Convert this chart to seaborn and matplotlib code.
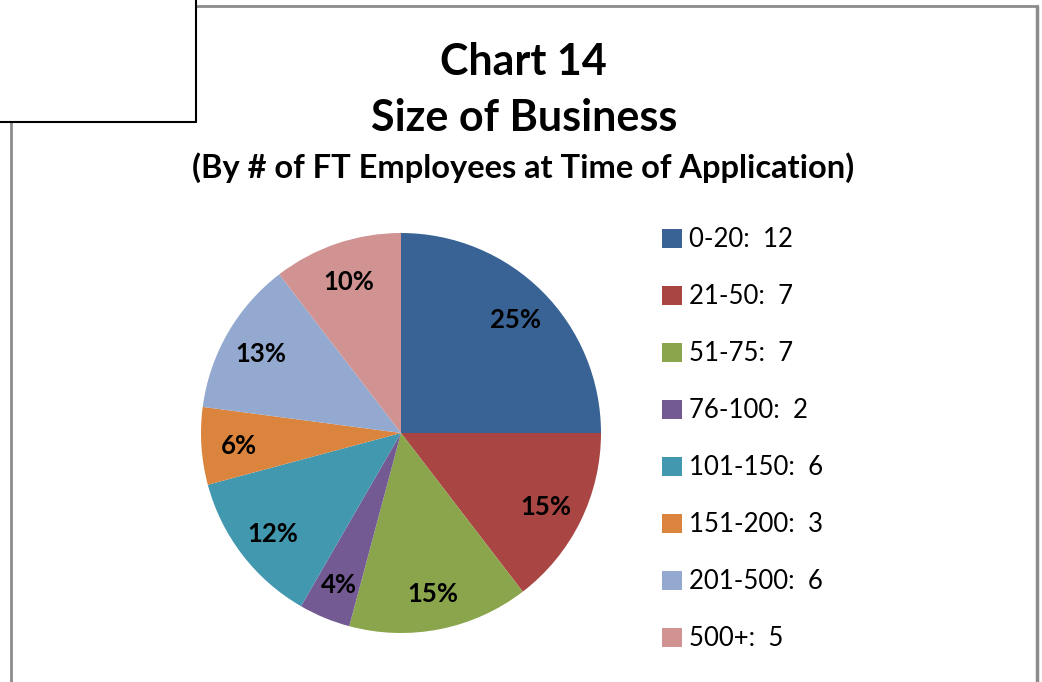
import matplotlib
matplotlib.use("Agg")
import matplotlib.pyplot as plt
import seaborn as sns
from matplotlib.lines import Line2D
from matplotlib.patches import Patch

categories = ["0-20", "21-50", "51-75", "76-100", "101-150", "151-200", "201-500", "500+"]
counts = [12, 7, 7, 2, 6, 3, 6, 5]
pct_labels = ["25%", "15%", "15%", "4%", "12%", "6%", "13%", "10%"]
colors = ["#3A6395", "#A94543", "#8AA54C", "#735A93", "#4298AF", "#DB843D", "#93A9D0", "#D19392"]

sns.set_theme(style="white")
plt.rcParams['font.family'] = ['Lato', 'DejaVu Sans']
plt.rcParams['text.color'] = 'black'

W, H = 1042, 682
fig = plt.figure(figsize=(W / 100, H / 100), dpi=100)
fig.patch.set_facecolor("white")

def fx(x):
    return x / W

def fy(y):
    return 1 - y / H

cx, cy, r = 401, 433, 200
ax = fig.add_axes([fx(cx - r), fy(cy + r), 2 * r / W, 2 * r / H])
palette = sns.color_palette(colors)
wedges, texts = ax.pie(counts, colors=palette, startangle=90, counterclock=False,
                       labels=pct_labels, labeldistance=0.81, radius=1,
                       wedgeprops=dict(linewidth=0))
for t in texts:
    t.set_ha("center")
    t.set_va("center_baseline")
    t.set_fontsize(18.5)
    t.set_fontweight("bold")
    t.set_color("black")
ax.set_xlim(-1, 1)
ax.set_ylim(-1, 1)
ax.set_aspect("equal")
ax.axis("off")

fig.text(fx(523), fy(62), "Chart 14", ha="center", va="center", fontsize=31, fontweight="bold", color="black")
fig.text(fx(524), fy(118), "Size of Business", ha="center", va="center", fontsize=31, fontweight="bold", color="black")
fig.text(fx(523), fy(168), "(By # of FT Employees at Time of Application)", ha="center", va="center",
         fontsize=23.5, fontweight="bold", color="black")

handles = [Patch(facecolor=c, edgecolor="none") for c in palette]
leg_labels = [f"{c}:  {n}" for c, n in zip(categories, counts)]
leg = fig.legend(handles, leg_labels, loc="upper left", bbox_to_anchor=(fx(652), fy(217)),
                 frameon=False, fontsize=18.5, handlelength=0.75, handleheight=0.75,
                 handletextpad=0.28, labelspacing=1.245, borderaxespad=0)
for t in leg.get_texts():
    t.set_color("black")

grey = "#8c8c8c"
fig.add_artist(Line2D([fx(197), fx(1037)], [fy(6), fy(6)], color=grey, lw=2))
fig.add_artist(Line2D([fx(1037), fx(1037)], [fy(6), fy(682)], color=grey, lw=2.5))
fig.add_artist(Line2D([fx(11), fx(11)], [fy(122), fy(682)], color=grey, lw=2))
fig.add_artist(Line2D([fx(196), fx(196)], [fy(0), fy(122)], color="black", lw=1.5))
fig.add_artist(Line2D([fx(0), fx(196)], [fy(122), fy(122)], color="black", lw=1.5))

fig.savefig("out.png", dpi=100)
